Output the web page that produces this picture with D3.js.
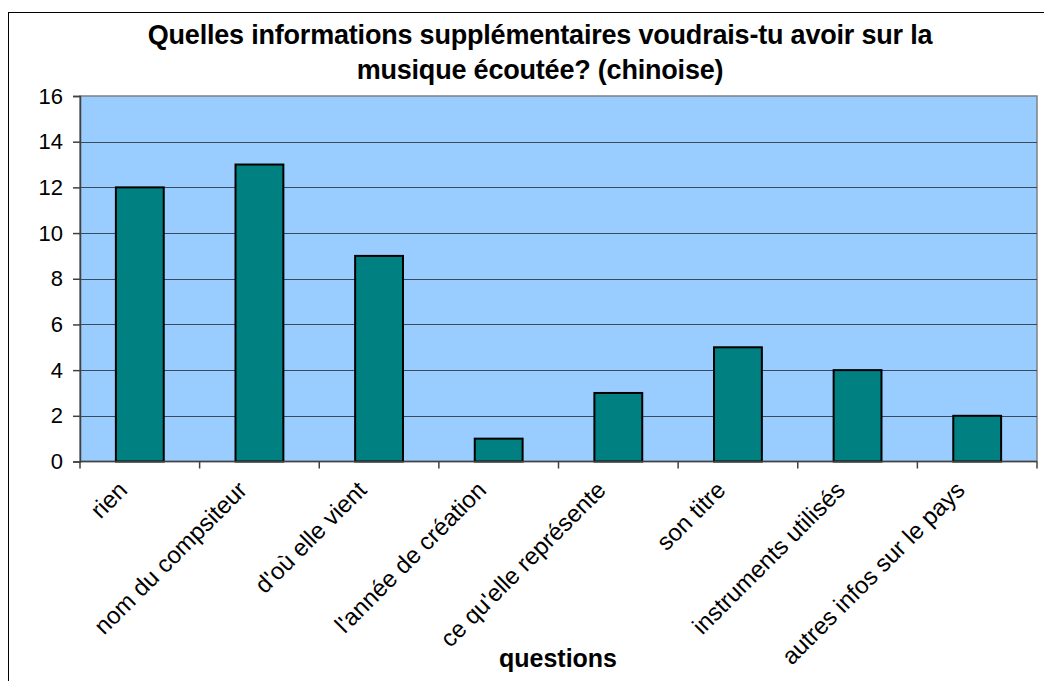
<!DOCTYPE html>
<html>
<head>
<meta charset="utf-8">
<script src="https://cdn.jsdelivr.net/npm/d3@7"></script>
<style>
  body { margin: 0; background: #fff; }
  svg text { font-family: "Liberation Sans", Arial, sans-serif; }
</style>
</head>
<body>
<svg id="chart"></svg>
<script>
//Chart data
var categories = ["rien", "nom du compsiteur", "d'où elle vient", "l'année de création",
                  "ce qu'elle représente", "son titre", "instruments utilisés", "autres infos sur le pays"];
var counts = [12, 13, 9, 1, 3, 5, 4, 2];
var yTicks = [0, 2, 4, 6, 8, 10, 12, 14, 16];
var titleLines = ["Quelles informations supplémentaires voudrais-tu avoir sur la",
                  "musique écoutée? (chinoise)"];
var xTitle = "questions";

//Dimensions
var dimensions = {
    width: 1044,
    height: 681,
    margin: { top: 96, right: 7, bottom: 220, left: 80 }
};

var svg = d3.select("#chart")
            .attr("width", dimensions.width)
            .attr("height", dimensions.height);

//Outer chart border (cut off at right and bottom like the original)
svg.append("rect")
    .attr("x", 8.5)
    .attr("y", 12.5)
    .attr("width", 1100)
    .attr("height", 1000)
    .attr("fill", "white")
    .attr("stroke", "black")
    .attr("stroke-width", 1);

var x0 = dimensions.margin.left;
var x1 = dimensions.width - dimensions.margin.right;
var y0 = dimensions.margin.top;
var y1 = dimensions.height - dimensions.margin.bottom + 0.5;

//Scales
var bandScale = d3.scaleBand().domain(categories).range([x0, x1]);
var barWidth = bandScale.bandwidth() / 2.5;

var yScale = d3.scaleLinear()
               .domain([0, 16])
               .range([y1, y0]);

//Plot background
svg.append("rect")
    .attr("x", x0)
    .attr("y", y0)
    .attr("width", x1 - x0)
    .attr("height", y1 - y0)
    .attr("fill", "#99ccff")
    .attr("stroke", "#808080")
    .attr("stroke-width", 1.5);

//Gridlines
svg.append("g")
    .selectAll("line")
    .data(yTicks.filter(function(d){ return d > 0 && d < 16; }))
    .join("line")
    .attr("x1", x0)
    .attr("x2", x1)
    .attr("y1", function(d){ return Math.round(yScale(d)) + 0.5; })
    .attr("y2", function(d){ return Math.round(yScale(d)) + 0.5; })
    .attr("stroke", "#3a4a5a")
    .attr("stroke-width", 1);

//Bars
svg.append("g")
    .selectAll("rect")
    .data(counts)
    .join("rect")
    .attr("x", function(d, i){ return bandScale(categories[i]) + (bandScale.bandwidth() - barWidth) / 2; })
    .attr("y", function(d){ return yScale(d); })
    .attr("width", barWidth)
    .attr("height", function(d){ return y1 - yScale(d); })
    .attr("fill", "#008080")
    .attr("stroke", "black")
    .attr("stroke-width", 2);

//Y axis
var yAxis = svg.append("g")
               .attr("transform", "translate(" + x0 + ",0)")
               .call(d3.axisLeft(yScale).tickValues(yTicks).tickSize(7).tickPadding(10));
yAxis.select(".domain").attr("stroke", "#404040").attr("stroke-width", 1.5);
yAxis.selectAll(".tick line").attr("stroke", "#404040").attr("stroke-width", 1.5);
yAxis.selectAll("text")
     .style("font-size", "22px")
     .attr("fill", "black");

//X axis: ticks at category boundaries
var bounds = categories.map(function(c){ return bandScale(c); }).concat([x1]);
var xAxis = svg.append("g");
xAxis.append("line")
     .attr("x1", x0).attr("x2", x1)
     .attr("y1", y1).attr("y2", y1)
     .attr("stroke", "#404040")
     .attr("stroke-width", 1.5);
xAxis.selectAll(".tk")
     .data(bounds)
     .join("line")
     .attr("class", "tk")
     .attr("x1", function(d){ return d; })
     .attr("x2", function(d){ return d; })
     .attr("y1", y1)
     .attr("y2", y1 + 7)
     .attr("stroke", "#404040")
     .attr("stroke-width", 1.5);

//Category labels (clipped like the original)
svg.append("clipPath")
    .attr("id", "labclip")
    .append("rect")
    .attr("x", 0).attr("y", y1 + 15)
    .attr("width", dimensions.width).attr("height", 400);

svg.append("g")
    .attr("clip-path", "url(#labclip)")
    .selectAll("text")
    .data(categories)
    .join("text")
    .attr("transform", function(d){
        var cx = bandScale(d) + bandScale.bandwidth() / 2 - 11;
        return "translate(" + cx + "," + (y1 + 30) + ") rotate(-45)";
    })
    .attr("text-anchor", "end")
    .style("font-size", "24px")
    .text(function(d){ return d; });

//Title
svg.append("g")
    .selectAll("text")
    .data(titleLines)
    .join("text")
    .attr("x", 540)
    .attr("y", function(d, i){ return 44 + i * 35; })
    .attr("text-anchor", "middle")
    .style("font-size", "27px")
    .style("font-weight", "bold")
    .style("letter-spacing", "-0.2px")
    .text(function(d){ return d; });

//X-axis title
svg.append("text")
    .attr("x", 558)
    .attr("y", 667)
    .attr("text-anchor", "middle")
    .style("font-size", "25px")
    .style("font-weight", "bold")
    .text(xTitle);
</script>
</body>
</html>
